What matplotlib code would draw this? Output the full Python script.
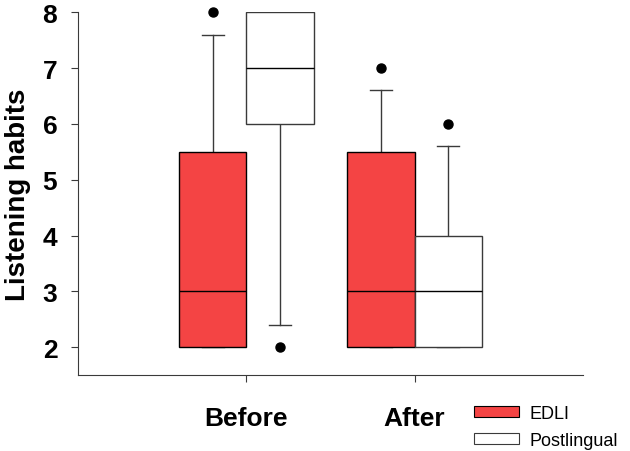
import matplotlib.pyplot as plt
from matplotlib.patches import Patch

plt.rcParams['font.family'] = ['Liberation Sans', 'DejaVu Sans']

groups = ["Before", "After"]
series = ["EDLI", "Postlingual"]
colors = ["#f44444", "white"]

# box statistics, [Before, After] per series
q1 = {"EDLI": [2, 2], "Postlingual": [6, 2]}
med = {"EDLI": [3, 3], "Postlingual": [7, 3]}
q3 = {"EDLI": [5.5, 5.5], "Postlingual": [8, 4]}
whislo = {"EDLI": [2, 2], "Postlingual": [2.4, 2]}
whishi = {"EDLI": [7.6, 6.6], "Postlingual": [8, 5.6]}
fliers = {"EDLI": [[8], [7]], "Postlingual": [[2], [6]]}

fig = plt.figure(figsize=(6.3, 4.52), dpi=100)
ax = fig.add_axes([0.124, 0.168, 0.801, 0.8025])

width = 0.4
offsets = [-width / 2, width / 2]
for s, name in enumerate(series):
    stats = []
    for g in range(len(groups)):
        stats.append(dict(med=med[name][g], q1=q1[name][g], q3=q3[name][g],
                          whislo=whislo[name][g], whishi=whishi[name][g],
                          fliers=fliers[name][g]))
    pos = [g + 1 + offsets[s] for g in range(len(groups))]
    edge = "black" if s == 0 else "#3a3a3a"
    ax.bxp(stats, positions=pos, widths=width, capwidths=0.13,
           patch_artist=True, manage_ticks=False,
           boxprops=dict(facecolor=colors[s], edgecolor=edge, linewidth=1, zorder=3),
           medianprops=dict(color="black", linewidth=1, zorder=4),
           whiskerprops=dict(color="#3a3a3a", linewidth=1, zorder=2),
           capprops=dict(color="#3a3a3a", linewidth=1, zorder=2),
           flierprops=dict(marker="o", markerfacecolor="black",
                           markeredgecolor="black", markersize=6.5, clip_on=False))

ax.set_xlim(0, 3)
ax.set_ylim(1.5, 8)
ax.set_yticks(range(2, 9))
ax.set_xticks([1, 2])
ax.set_xticklabels(groups)
ax.spines["top"].set_visible(False)
ax.spines["right"].set_visible(False)
ax.spines["left"].set_bounds(1.5, 8)
for sp in ["left", "bottom"]:
    ax.spines[sp].set_color("#3a3a3a")
ax.tick_params(axis="y", direction="out", length=5, color="#3a3a3a",
               labelsize=19, pad=10)
ax.tick_params(axis="x", direction="out", length=5, color="#3a3a3a",
               labelsize=19, pad=17)
for lab in ax.get_xticklabels() + ax.get_yticklabels():
    lab.set_fontweight("bold")
ax.set_ylabel("Listening habits", fontsize=20, fontweight="bold", labelpad=8)

handles = [Patch(facecolor=colors[0], edgecolor="black", linewidth=0.8),
           Patch(facecolor=colors[1], edgecolor="#3a3a3a", linewidth=0.8)]
fig.legend(handles, series, loc="upper left", bbox_to_anchor=(474 / 630, 1 - 406 / 452),
           frameon=False, fontsize=13, borderpad=0, handlelength=2.5,
           handleheight=0.6, handletextpad=0.6, labelspacing=0.55, borderaxespad=0)

plt.savefig("out.png")
